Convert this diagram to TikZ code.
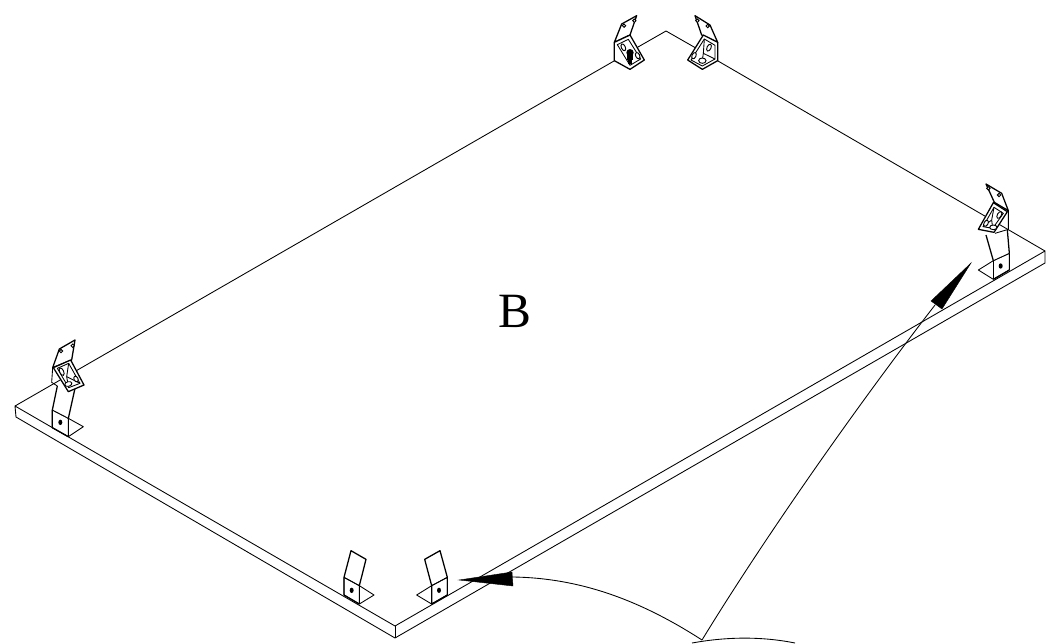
\documentclass[tikz,border=0pt]{standalone}
\usepackage{fontspec}
\setmainfont{Liberation Serif}
\tikzset{
 ln/.style={draw=black,line width=0.65pt,line join=round},
 thk/.style={draw=black,line width=0.95pt,line join=round},
 wh/.style={ln,fill=white},
 hl/.style={draw=black,line width=0.7pt,fill=white},
 blk/.style={fill=black,draw=black,line width=0.3pt}
}
\begin{document}
\begin{tikzpicture}[x=0.75pt,y=-0.75pt]
\useasboundingbox (0,0) rectangle (1056,643);
% panel
\draw[ln] (15,406) -- (395,626) -- (1045,251) -- (1045,263) -- (395,638) -- (16,417) -- cycle;
\draw[ln] (395,626) -- (395,638);
\draw[ln] (15,406) -- (614,61) -- (638,47) -- (666,31) -- (694,47) -- (718,61) -- (1045,251);
% bottom foot brackets
\begin{scope}[shift={(330,530)},x=0.25pt,y=-0.25pt]
 \draw[wh] (42,142) -- (88,167) -- (132,195) -- (88,222) -- (42,195) -- cycle;
 \draw[thk] (42,142) -- (63,62) -- (108,88) -- (88,167);
 \draw[thk] (42,142) -- (42,195) -- (88,222);
 \draw[ln] (42,142) -- (88,167) -- (88,222);
 \fill (65,181) circle[x radius=6,y radius=8];
 \draw[wh] (305,167) -- (260,195) -- (305,222) -- (352,195) -- (352,142) -- cycle;
 \draw[thk] (352,142) -- (330,62) -- (284,88) -- (305,167);
 \draw[thk] (305,167) -- (305,222) -- (352,195);
 \draw[ln] (305,167) -- (352,142) -- (352,195);
 \fill (327,181) circle[x radius=6,y radius=8];
\end{scope}
% left corner bracket
\begin{scope}[shift={(0,325)},x=0.25pt,y=-0.25pt]
 \draw[wh] (157,255) -- (205,280) -- (250,305) -- (205,335) -- (157,308) -- cycle;
 \fill[white] (172,183) -- (157,255) -- (205,280) -- (225,190) -- cycle;
 \draw[thk] (172,183) -- (157,255) (225,190) -- (205,280);
 \draw[ln] (157,255) -- (205,280) -- (205,335);
 \draw[thk] (157,255) -- (157,308) -- (205,335);
 \fill (181,292) circle[x radius=6,y radius=8];
 \draw[thk,fill=white] (158,128) -- (178,72) -- (225,45) -- (215,105) -- cycle;
 \draw[ln] (158,128) -- (155,172) -- (172,183);
 \draw[thk,fill=white] (160,128) -- (212,105) -- (252,180) -- (205,200) -- cycle;
 \draw[ln] (172,130) -- (206,115) -- (240,175) -- (206,188) -- cycle;
 \draw[ln] (206,115) -- (200,155) -- (206,188);
 \draw[ln] (200,155) -- (240,175);
 \draw[hl] (185,140) circle[x radius=6,y radius=12,rotate=25];
 \draw[hl] (228,162) circle[x radius=6,y radius=9,rotate=25];
 \draw[hl] (205,177) circle[x radius=11,y radius=7,rotate=15];
 \draw[hl] (183,78) circle[radius=5];
 \draw[hl] (218,62) circle[radius=5];
\end{scope}
% top left bracket
\begin{scope}[shift={(590,10)},x=0.25pt,y=-0.25pt]
 \draw[thk,fill=white] (73,97) -- (95,42) -- (140,17) -- (120,75) -- cycle;
 \draw[thk,fill=white] (73,97) -- (120,75) -- (163,150) -- (120,178) -- (73,152) -- cycle;
 \draw[ln] (82,104) -- (115,88) -- (152,147) -- (120,166) -- cycle;
 \draw[hl] (100,112) circle[x radius=6,y radius=11,rotate=25];
 \draw[hl] (143,137) circle[x radius=6,y radius=10,rotate=25];
 \draw[hl] (102,47) circle[radius=5];
 \draw[hl] (133,32) circle[radius=5];
 \fill (120,128) circle[radius=11];
 \fill (112,130) rectangle (129,150);
 \fill (115,150) rectangle (126,163);
\end{scope}
% top right bracket
\begin{scope}[shift={(590,10)},x=0.25pt,y=-0.25pt]
 \draw[thk,fill=white] (383,97) -- (360,45) -- (315,17) -- (335,75) -- cycle;
 \draw[thk,fill=white] (340,75) -- (383,97) -- (383,152) -- (337,178) -- (293,150) -- cycle;
 \draw[ln] (343,87) -- (375,106) -- (375,147) -- (337,168) -- (303,150) -- cycle;
 \draw[ln] (343,87) -- (340,130) -- (337,150);
 \draw[ln] (340,130) -- (375,147);
 \draw[hl] (312,137) circle[x radius=6,y radius=10,rotate=-25];
 \draw[hl] (357,113) circle[x radius=6,y radius=11,rotate=-25];
 \draw[hl] (337,152) circle[x radius=11,y radius=8];
 \draw[hl] (322,32) circle[radius=5];
 \draw[hl] (353,48) circle[radius=5];
\end{scope}
% right bracket
\begin{scope}[shift={(950,170)},x=0.25pt,y=-0.25pt]
 \draw[wh] (130,272) -- (178,250) -- (178,300) -- (130,328) -- (85,300) -- cycle;
 \draw[ln] (130,272) -- (130,328);
 \draw[thk] (130,328) -- (178,300);
 \fill (152,288) circle[x radius=6,y radius=8];
 \fill[white] (108,195) -- (130,272) -- (178,250) -- (172,180) -- cycle;
 \draw[thk] (108,195) -- (130,272) (172,180) -- (178,250);
 \draw[ln] (130,272) -- (178,250);
 \draw[thk,fill=white] (133,97) -- (108,42) -- (155,70) -- (175,122) -- cycle;
 \draw[ln] (175,122) -- (175,178) -- (135,190);
 \draw[thk,fill=white] (130,98) -- (172,125) -- (132,187) -- (85,178) -- cycle;
 \draw[ln] (132,112) -- (160,130) -- (128,175) -- (99,170) -- cycle;
 \draw[ln] (132,112) -- (125,150) -- (128,175);
 \draw[ln] (125,150) -- (99,170);
 \draw[hl] (108,160) circle[x radius=6,y radius=10,rotate=-30];
 \draw[hl] (148,135) circle[x radius=6,y radius=11,rotate=-30];
 \draw[hl] (130,172) circle[x radius=11,y radius=7];
 \draw[hl] (115,55) circle[radius=5];
 \draw[hl] (147,75) circle[radius=5];
\end{scope}
% label
\node[font=\fontsize{37}{37}\selectfont,inner sep=0pt] (lblB) at (515,311) {B};
% arrows
\coordinate (apex) at (702,640);
\coordinate (tipA) at (459,580);
\coordinate (tipB) at (971,263);
\coordinate (baseA) at (513,577);
\coordinate (baseB) at (935,305);
\draw[ln] (apex) .. controls (640,600) and (580,578) .. (baseA);
\draw[ln] (apex) .. controls (760,545) and (850,415) .. (baseB);
\fill[blk] (tipA) -- (512,572) -- (513,586) -- cycle;
\fill[blk] (tipB) -- (931,301) -- (942,309) -- cycle;
\draw[ln] (692,643) .. controls (725,637) and (760,636) .. (795,643);
\end{tikzpicture}
\end{document}
